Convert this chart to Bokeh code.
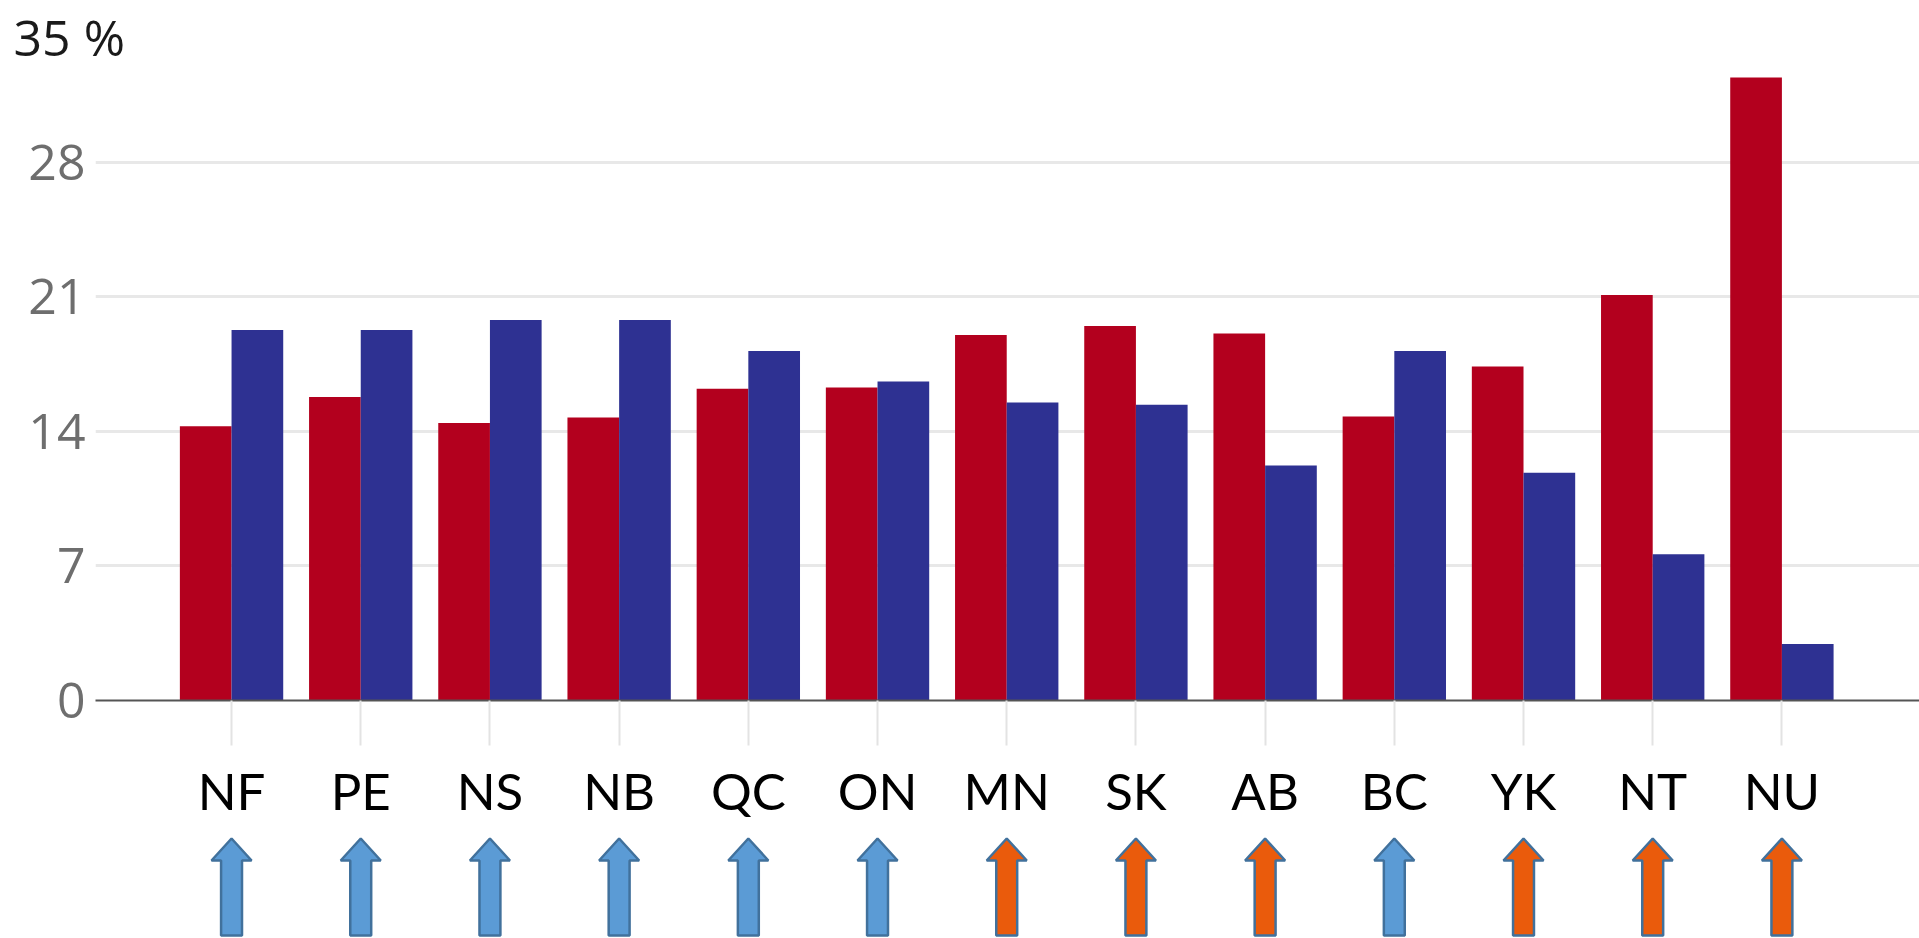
from bokeh.plotting import figure
from bokeh.layouts import column
from bokeh.models import Range1d, FixedTicker, ColumnDataSource
from bokeh.transform import dodge
from bokeh.embed import file_html
from bokeh.resources import INLINE

# ---- data ----
provinces = ["NF", "PE", "NS", "NB", "QC", "ON", "MN", "SK", "AB", "BC", "YK", "NT", "NU"]
red_values = [14.26, 15.78, 14.43, 14.72, 16.21, 16.28, 19.01, 19.48, 19.09, 14.77, 17.37, 21.08, 32.4]
blue_values = [19.27, 19.27, 19.79, 19.79, 18.18, 16.59, 15.5, 15.38, 12.22, 18.18, 11.84, 7.6, 2.94]
y_ticks = [0, 7, 14, 21, 28]
y_top_label = "35 %"

RED = "#B3001E"
BLUE = "#2E3192"
ARROW_UP_RED = "#EA5B0C"
ARROW_UP_BLUE = "#5B9BD5"
ARROW_EDGE = "#41719C"

idx = list(range(len(provinces)))
src = ColumnDataSource(dict(x=idx, red=red_values, blue=blue_values))

W = 1919
p1 = figure(width=W, height=833, x_range=Range1d(-1.053, 13.065), y_range=Range1d(0, 32.76),
            output_backend="svg", toolbar_location=None,
            min_border_left=95, min_border_right=0, min_border_top=0, min_border_bottom=133)
p1.outline_line_color = None
p1.background_fill_color = "white"

p1.title.text = y_top_label
p1.title.align = "left"
p1.title.offset = -82
p1.title.standoff = 0
p1.title.text_font = "Open Sans"
p1.title.text_font_size = "50px"
p1.title.text_font_style = "normal"
p1.title.text_color = "#1a1a1a"

p1.vbar(x=dodge("x", -0.2), top="red", width=0.4, source=src, fill_color=RED, line_color=None)
p1.vbar(x=dodge("x", 0.2), top="blue", width=0.4, source=src, fill_color=BLUE, line_color=None)

p1.xgrid.visible = False
p1.ygrid.ticker = FixedTicker(ticks=[t for t in y_ticks if t > 0])
p1.ygrid.grid_line_color = "#e8e8e8"
p1.ygrid.grid_line_width = 3

ya = p1.yaxis[0]
ya.ticker = FixedTicker(ticks=y_ticks)
ya.axis_line_color = None
ya.major_tick_line_color = None
ya.major_tick_out = 0
ya.major_tick_in = 0
ya.minor_tick_line_color = None
ya.major_label_text_font = "Open Sans"
ya.major_label_text_font_size = "50px"
ya.major_label_text_color = "#6e6e6e"
ya.major_label_standoff = 10

xa = p1.xaxis[0]
xa.ticker = FixedTicker(ticks=idx)
xa.major_label_overrides = {i: name for i, name in zip(idx, provinces)}
xa.axis_line_color = "#555555"
xa.axis_line_width = 2
xa.major_tick_out = 45
xa.major_tick_in = 0
xa.major_tick_line_color = "#e3e3e3"
xa.major_tick_line_width = 2
xa.minor_tick_line_color = None
xa.major_label_text_font = "Lato"
xa.major_label_text_font_size = "51px"
xa.major_label_text_color = "black"
xa.major_label_standoff = 14

# ---- arrows row ----
p2 = figure(width=W, height=104, x_range=p1.x_range, y_range=Range1d(104, 0),
            output_backend="svg", toolbar_location=None,
            x_axis_location=None, y_axis_location=None,
            min_border_left=95, min_border_right=0, min_border_top=0, min_border_bottom=0)
p2.outline_line_color = None
p2.grid.visible = False

hw, hh = 0.081, 0.155
tip, base, bottom = 5, 27, 102
xs, ys, cols = [], [], []
for i, r, b in zip(idx, red_values, blue_values):
    xs.append([i - hw, i - hw, i - hh, i, i + hh, i + hw, i + hw])
    ys.append([bottom, base, base, tip, base, base, bottom])
    cols.append(ARROW_UP_RED if r > b else ARROW_UP_BLUE)
p2.patches(xs=xs, ys=ys, fill_color=cols, line_color=ARROW_EDGE, line_width=2.5)

layout = column(p1, p2, spacing=0)
open("out.html", "w").write(file_html(layout, INLINE))
